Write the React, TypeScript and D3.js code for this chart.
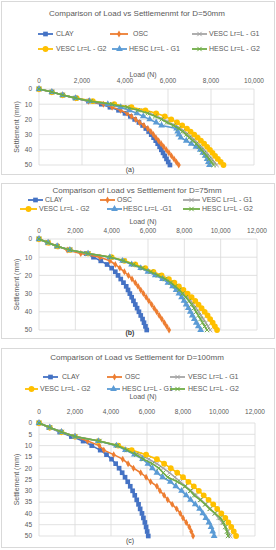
import React from 'react'
import * as d3 from 'd3'

// settlement levels (mm) at which the loads were read
const settlement = [0, 2, 4, 6, 8, 10, 12, 14, 16, 18, 20, 22, 24, 26, 28, 30, 32, 34, 36, 38, 40, 42, 44, 46, 48, 50]

const colors = ['#4472C4', '#ED7D31', '#A5A5A5', '#FFC000', '#5B9BD5', '#70AD47']

// D = 50 mm
const clay50 = [0, 600, 1100, 1700, 2300, 2900, 3300, 3700, 4000, 4250, 4450, 4650, 4820, 4970, 5100, 5220, 5330, 5430, 5520, 5610, 5690, 5770, 5850, 5930, 6010, 6090]
const osc50 = [0, 600, 1100, 1700, 2300, 3000, 3400, 3800, 4100, 4300, 4500, 4680, 4880, 5060, 5200, 5320, 5440, 5560, 5680, 5800, 5920, 6040, 6160, 6280, 6390, 6500]
const vescG1_50 = [0, 600, 1100, 1700, 2400, 3450, 4150, 4700, 5150, 5500, 5800, 6050, 6330, 6580, 6780, 6950, 7110, 7260, 7420, 7560, 7680, 7800, 7920, 8040, 8150, 8260]
const vescG2_50 = [0, 600, 1100, 1750, 2500, 3500, 4300, 4950, 5450, 5850, 6150, 6420, 6660, 6880, 7050, 7220, 7380, 7530, 7680, 7820, 7950, 8070, 8190, 8320, 8450, 8580]
const hescG1_50 = [0, 600, 1100, 1700, 2350, 3200, 3800, 4200, 4550, 4850, 5150, 5450, 5700, 6400, 6450, 6500, 6600, 6850, 7080, 7300, 7500, 7620, 7730, 7820, 7880, 7930]
const hescG2_50 = [0, 600, 1100, 1700, 2400, 3400, 4100, 4600, 5050, 5400, 5700, 5950, 6250, 6500, 6680, 6850, 7000, 7150, 7320, 7440, 7560, 7680, 7800, 7920, 8020, 8120]

// D = 75 mm
const clay75 = [0, 480, 1000, 1700, 2600, 3000, 3400, 3750, 4000, 4200, 4350, 4500, 4650, 4800, 4900, 5000, 5100, 5200, 5300, 5400, 5500, 5600, 5700, 5780, 5860, 5930]
const osc75 = [0, 550, 1050, 1550, 2300, 3350, 3900, 4200, 4450, 4700, 4920, 5120, 5300, 5450, 5600, 5750, 5900, 6050, 6200, 6340, 6480, 6620, 6760, 6900, 7030, 7160]
const vescG1_75 = [0, 500, 1000, 1700, 2700, 3950, 4680, 5250, 5750, 6200, 6600, 7000, 7320, 7580, 7800, 8000, 8180, 8350, 8500, 8650, 8790, 8920, 9050, 9180, 9300, 9420]
const vescG2_75 = [0, 500, 1000, 1700, 2700, 4000, 4700, 5300, 5850, 6300, 6750, 7150, 7450, 7700, 7950, 8180, 8400, 8600, 8780, 8950, 9120, 9280, 9420, 9560, 9680, 9800]
const hescG1_75 = [0, 500, 1000, 1700, 2700, 3900, 4600, 5100, 5600, 6000, 6400, 6800, 7100, 7350, 7550, 7700, 7850, 7980, 8100, 8220, 8330, 8440, 8550, 8660, 8770, 8900]
const hescG2_75 = [0, 500, 1000, 1700, 2700, 3950, 4650, 5200, 5700, 6150, 6550, 6950, 7250, 7500, 7720, 7900, 8080, 8250, 8400, 8530, 8650, 8770, 8890, 9000, 9120, 9250]

// D = 100 mm
const clay100 = [0, 550, 1150, 1800, 2450, 2930, 3400, 3750, 4030, 4260, 4450, 4620, 4780, 4930, 5070, 5200, 5320, 5430, 5530, 5620, 5720, 5800, 5880, 5950, 6010, 6070]
const osc100 = [0, 600, 1250, 2000, 2700, 3350, 3600, 4150, 4650, 4950, 5250, 5650, 5950, 6200, 6550, 6720, 6950, 7150, 7400, 7650, 7850, 8000, 8180, 8350, 8460, 8560]
const vescG1_100 = [0, 600, 1250, 2000, 3350, 4380, 5000, 5600, 6100, 6550, 6900, 7250, 7550, 7850, 8150, 8450, 8720, 9000, 9270, 9520, 9760, 9980, 10180, 10350, 10500, 10620]
const vescG2_100 = [0, 600, 1250, 2000, 3300, 4400, 5150, 5950, 6550, 6950, 7320, 7680, 8000, 8300, 8600, 8880, 9150, 9420, 9680, 9900, 10130, 10350, 10520, 10680, 10820, 10950]
const hescG1_100 = [0, 600, 1250, 2000, 3300, 4300, 4800, 5300, 5750, 6050, 6300, 6550, 6870, 7300, 7600, 7920, 8180, 8420, 8680, 8920, 9100, 9270, 9440, 9560, 9650, 9730]
const hescG2_100 = [0, 600, 1250, 2000, 3350, 4350, 4900, 5400, 5800, 6300, 6650, 6900, 7150, 7700, 8100, 8400, 8620, 8950, 9230, 9480, 9780, 10080, 10250, 10360, 10440, 10500]

const names1 = ['CLAY', 'OSC', 'VESC Lr=L - G1', 'VESC Lr=L - G2', 'HESC Lr=L - G1', 'HESC Lr=L - G2']
const names2 = ['CLAY', 'OSC', 'VESC Lr=L - G1', 'VESC Lr=L - G2', 'HESC Lr=L -G1', 'HESC Lr=L - G2']

const xTicks10k = [0, 2000, 4000, 6000, 8000, 10000]
const xTicks12k = [0, 2000, 4000, 6000, 8000, 10000, 12000]
const yTicks10 = [0, 10, 20, 30, 40, 50]
const yTicks5 = [0, 5, 10, 15, 20, 25, 30, 35, 40, 45, 50]

const FONT = "'Liberation Sans', Arial, sans-serif"
const symbols = [d3.symbolSquare, d3.symbolDiamond, d3.symbolX || d3.symbolCross, d3.symbolCircle, d3.symbolTriangle, d3.symbolX || d3.symbolCross]
const symSize = [22, 14, 14, 26, 20, 14]

function Marker({i, cx, cy}) {
  const path = d3.symbol().type(symbols[i]).size(symSize[i])()
  const stroked = i === 2 || i === 5
  return <path d={path} transform={`translate(${cx},${cy})${i === 1 ? '' : ''}`}
    fill={stroked ? 'none' : colors[i]} stroke={stroked ? colors[i] : 'none'} strokeWidth={stroked ? 1 : 0} />
}

const panels = [
  {
    box: [1, 1, 274, 174], title: 'Comparison of Load vs Settlemenmt for D=50mm', titleY: 16,
    x0: 39, x1: 254, y0: 89, y1: 165, xMax: 10000, xTicks: xTicks10k, yTicks: yTicks10,
    loadY: 77, tickY: 83, label: '(a)', labelY: 172, labelBold: false,
    series: [clay50, osc50, vescG1_50, vescG2_50, hescG1_50, hescG2_50], names: names1,
    legend: [[38, 53, 56, 34], [110, 128, 133, 34], [192, 207, 209, 34], [38, 53, 56, 49], [112, 127, 129, 49], [192, 207, 209, 49]],
  },
  {
    box: [1, 183, 274, 338], title: 'Comparison of Load vs Settlement for D=75mm', titleY: 193,
    x0: 39, x1: 257, y0: 239, y1: 330, xMax: 12000, xTicks: xTicks12k, yTicks: yTicks10,
    loadY: 224, tickY: 233, label: '(b)', labelY: 335, labelBold: true,
    series: [clay75, osc75, vescG1_75, vescG2_75, hescG1_75, hescG2_75], names: names2,
    legend: [[28, 43, 45, 200], [100, 115, 117, 200], [183, 200, 202, 200], [20, 37, 39, 209], [107, 122, 123, 209], [183, 200, 202, 209]],
  },
  {
    box: [1, 348, 274, 547], title: 'Comparison of Load vs Settlement for D=100mm', titleY: 360,
    x0: 39, x1: 255, y0: 423, y1: 536, xMax: 12000, xTicks: xTicks12k, yTicks: yTicks5,
    loadY: 399, tickY: 414, label: '(c)', labelY: 543, labelBold: false,
    series: [clay100, osc100, vescG1_100, vescG2_100, hescG1_100, hescG2_100], names: names1,
    legend: [[43, 58, 62, 377], [107, 122, 125, 377], [170, 185, 188, 377], [25, 38, 40, 389], [107, 120, 122, 389], [170, 185, 188, 389]],
  },
]

function Panel({p}) {
  const x = d3.scaleLinear().domain([0, p.xMax]).range([p.x0, p.x1])
  const y = d3.scaleLinear().domain([0, 50]).range([p.y0, p.y1])
  const line = d3.line<number>().x(d => x(d)).y((d, i) => y(settlement[i]))
  const fmt = d3.format(',')
  const [bx0, by0, bx1, by1] = p.box
  return <g fontFamily={FONT}>
    <rect x={bx0 + 0.5} y={by0 + 0.5} width={bx1 - bx0} height={by1 - by0} fill="white" stroke="#D9D9D9" />
    <text x={137} y={p.titleY} textAnchor="middle" fontSize={8} fill="#595959">{p.title}</text>
    {p.legend.map(([l0, l1, tx, ly], i) => <g key={i}>
      <line x1={l0} x2={l1} y1={ly} y2={ly} stroke={colors[i]} strokeWidth={1.8} />
      <Marker i={i} cx={(l0 + l1) / 2} cy={ly} />
      <text x={tx} y={ly + 2.4} fontSize={7} fill="#595959">{p.names[i]}</text>
    </g>)}
    <text x={143} y={p.loadY} textAnchor="middle" fontSize={7} fill="#595959">Load  (N)</text>
    {p.xTicks.map(t => <g key={t}>
      <line x1={x(t)} x2={x(t)} y1={p.y0} y2={p.y1} stroke="#D9D9D9" strokeWidth={0.8} />
      <text x={x(t)} y={p.tickY} textAnchor="middle" fontSize={6.5} fill="#595959">{fmt(t)}</text>
    </g>)}
    {p.yTicks.map(t => <g key={t}>
      <line x1={p.x0} x2={p.x1} y1={y(t)} y2={y(t)} stroke="#D9D9D9" strokeWidth={0.8} />
      <text x={32} y={y(t) + 2.3} textAnchor="end" fontSize={6.5} fill="#595959">{t}</text>
    </g>)}
    <text transform={`translate(19,${(p.y0 + p.y1) / 2}) rotate(-90)`} textAnchor="middle" fontSize={7} fill="#595959">Settlement (mm)</text>
    {p.series.map((s, i) => <g key={i}>
      <path d={line(s)} fill="none" stroke={colors[i]} strokeWidth={1.6} />
      {s.map((v, j) => <Marker key={j} i={i} cx={x(v)} cy={y(settlement[j])} />)}
    </g>)}
    <text x={130} y={p.labelY} textAnchor="middle" fontSize={7} fontWeight={p.labelBold ? 'bold' : 'normal'} fill="#404040">{p.label}</text>
  </g>
}

export default function App() {
  return <svg width={276} height={550} style={{position: 'absolute', left: 0, top: 0, background: 'white'}}>
    {panels.map((p, i) => <Panel key={i} p={p} />)}
  </svg>
}
